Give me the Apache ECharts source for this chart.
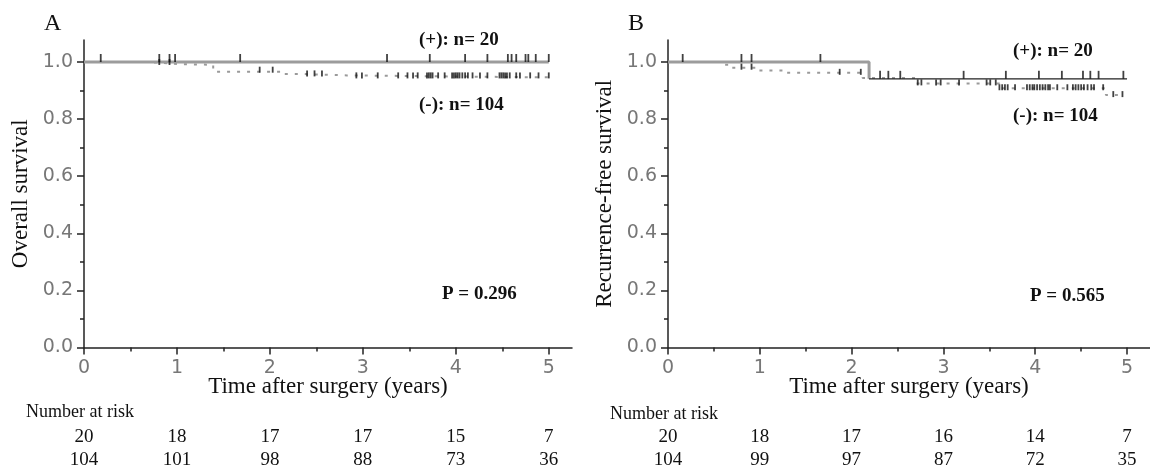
<!DOCTYPE html>
<html>
<head>
<meta charset="utf-8">
<script src="https://cdn.jsdelivr.net/npm/echarts@6/dist/echarts.min.js"></script>
<style>
html,body{margin:0;padding:0;background:#fff;}
#c{width:1150px;height:470px;}
</style>
</head>
<body>
<div id="c"></div>
<script>
// ---- data ----
const xTicks = [0, 1, 2, 3, 4, 5];
const xMinor = [0.5, 1.5, 2.5, 3.5, 4.5];
const yTicks = [0, 0.2, 0.4, 0.6, 0.8, 1.0];
const yMinor = [0.1, 0.3, 0.5, 0.7, 0.9];

const riskAPos = [20, 18, 17, 17, 15, 7];
const riskANeg = [104, 101, 98, 88, 73, 36];
const riskBPos = [20, 18, 17, 16, 14, 7];
const riskBNeg = [104, 99, 97, 87, 72, 35];

// Panel A (overall survival)
const timesAPos = [0, 5.0];
const survAPos = [1, 1];
const censorAPos = [0.18, 0.81, 0.92, 0.98, 1.68, 3.26, 3.72, 4.10, 4.34, 4.56, 4.60, 4.65, 4.75, 4.78, 4.86, 5.0];
const timesANeg = [0, 0.69, 1.0, 1.39, 2.13, 2.34, 2.83, 5.02];
const survANeg = [1, 0.993, 0.99, 0.966, 0.958, 0.953, 0.946, 0.946];
const censorANeg = [0.81, 0.92, 1.89, 2.03, 2.40, 2.48, 2.56, 2.93, 2.99, 3.16, 3.38, 3.48, 3.54, 3.59, 3.69, 3.71, 3.73, 3.75, 3.81, 3.88, 3.96, 3.98, 4.00, 4.02, 4.04, 4.07, 4.10, 4.13, 4.18, 4.26, 4.34, 4.47, 4.49, 4.51, 4.53, 4.55, 4.58, 4.65, 4.69, 4.80, 4.89, 5.0];

// Panel B (recurrence-free survival)
const timesBPos = [0, 2.19, 5.0];
const survBPos = [1, 0.941, 0.941];
const censorBPos = [0.16, 0.80, 0.91, 1.66, 2.31, 2.40, 2.53, 3.22, 3.68, 4.04, 4.29, 4.52, 4.60, 4.69, 4.96];
const timesBNeg = [0, 0.61, 0.68, 0.96, 1.28, 2.12, 2.70, 3.61, 4.77, 4.97];
const survBNeg = [1, 0.99, 0.98, 0.97, 0.962, 0.944, 0.925, 0.908, 0.884, 0.884];
const censorBNeg = [0.80, 0.91, 1.87, 2.10, 2.72, 2.76, 2.92, 2.97, 3.17, 3.47, 3.51, 3.57, 3.61, 3.64, 3.67, 3.70, 3.78, 3.91, 3.94, 3.97, 3.99, 4.02, 4.05, 4.08, 4.11, 4.14, 4.16, 4.24, 4.35, 4.41, 4.44, 4.47, 4.50, 4.53, 4.57, 4.61, 4.64, 4.74, 4.85, 4.95];

// ---- helpers ----
function pts(times, surv) { return times.map((t, i) => [t, surv[i]]); }
function survAt(times, surv, t) {
  let s = surv[0];
  for (let i = 0; i < times.length; i++) if (times[i] <= t) s = surv[i];
  return s;
}
function censorPts(cens, times, surv) { return cens.map(t => [t, survAt(times, surv, t)]); }

const X_MAX = 5.25, Y_MAX = 1.077;
const AX = '#222';
const NUMFONT = 'DejaVu Sans';
const SERIF = 'Liberation Serif';

function mainX(g) {
  return {
    gridIndex: g, type: 'value', min: 0, max: X_MAX, position: 'bottom',
    axisLine: { onZero: false, lineStyle: { color: AX, width: 1.5 } },
    splitLine: { show: false },
    axisTick: { customValues: xTicks, length: 7, lineStyle: { color: AX, width: 1.5 } },
    axisLabel: { customValues: xTicks, margin: 11, fontSize: 19, color: '#777', fontFamily: NUMFONT },
    name: 'Time after surgery (years)', nameLocation: 'middle', nameGap: 28, nameMoveOverlap: false,
    nameTextStyle: { fontFamily: SERIF, fontSize: 23, color: '#111' }
  };
}
function minorX(g) {
  return {
    gridIndex: g, type: 'value', min: 0, max: X_MAX, position: 'bottom',
    axisLine: { show: false, onZero: false }, splitLine: { show: false },
    axisTick: { customValues: xMinor, length: 4, lineStyle: { color: AX, width: 1.5 } },
    axisLabel: { show: false }
  };
}
function riskX(g, arr, off) {
  return {
    gridIndex: g, type: 'value', min: 0, max: X_MAX, position: 'bottom', offset: off,
    axisLine: { show: false, onZero: false }, splitLine: { show: false }, axisTick: { show: false },
    axisLabel: {
      customValues: xTicks, margin: 0, verticalAlign: 'middle',
      formatter: v => String(arr[Math.round(v)]),
      fontFamily: SERIF, fontSize: 19, color: '#111'
    }
  };
}
function mainY(g, name) {
  return {
    gridIndex: g, type: 'value', min: 0, max: Y_MAX, position: 'left',
    axisLine: { show: true, onZero: false, lineStyle: { color: AX, width: 1.5 } },
    splitLine: { show: false },
    axisTick: { customValues: yTicks, length: 7, lineStyle: { color: AX, width: 1.5 } },
    axisLabel: { customValues: yTicks, formatter: v => v.toFixed(1), margin: 11, fontSize: 19, color: '#777', fontFamily: NUMFONT },
    name: name, nameLocation: 'middle', nameGap: 52, nameMoveOverlap: false,
    nameTextStyle: { fontFamily: SERIF, fontSize: 23, color: '#111' }
  };
}
function minorY(g) {
  return {
    gridIndex: g, type: 'value', min: 0, max: Y_MAX, position: 'left',
    axisLine: { show: false, onZero: false }, splitLine: { show: false },
    axisTick: { customValues: yMinor, length: 4, lineStyle: { color: AX, width: 1.5 } },
    axisLabel: { show: false }
  };
}

// x axes: per grid g -> indices 4g..4g+3 (main, minor, risk+, risk-)
const xAxes = [
  mainX(0), minorX(0), riskX(0, riskAPos, 90), riskX(0, riskANeg, 113),
  mainX(1), minorX(1), riskX(1, riskBPos, 90), riskX(1, riskBNeg, 113)
];
const yAxes = [mainY(0, 'Overall survival'), minorY(0), mainY(1, 'Recurrence-free survival'), minorY(1)];

function posLine(g, data, color, width, z) {
  return {
    type: 'line', step: 'end', xAxisIndex: 4 * g, yAxisIndex: 2 * g, data: data,
    symbol: 'none', lineStyle: { color: color, width: width }, z: z, silent: true, animation: false
  };
}
function negLine(g, data) {
  return {
    type: 'line', step: 'end', xAxisIndex: 4 * g, yAxisIndex: 2 * g, data: data,
    symbol: 'none', lineStyle: { color: '#9a9a9a', width: 2, type: [3, 7] }, z: 2, silent: true, animation: false
  };
}
function censors(g, data, h, off) {
  return {
    type: 'scatter', xAxisIndex: 4 * g, yAxisIndex: 2 * g, data: data,
    symbol: 'rect', symbolSize: [1.8, h], symbolOffset: [0, off],
    itemStyle: { color: '#111' }, z: 5, silent: true, animation: false
  };
}

// B (+): grey up to and including first drop, thin dark afterwards
const bPosAll = pts(timesBPos, survBPos);
const bDropIdx = survBPos.findIndex(s => s < 1);
const bPosGrey = bPosAll.slice(0, bDropIdx + 1);
const bPosDark = bPosAll.slice(bDropIdx);

const option = {
  backgroundColor: '#fff',
  animation: false,
  grid: [
    { left: 84, top: 40, width: 488, height: 309 },
    { left: 668, top: 40, width: 488, height: 309 }
  ],
  xAxis: xAxes,
  yAxis: yAxes,
  series: [
    negLine(0, pts(timesANeg, survANeg)),
    posLine(0, pts(timesAPos, survAPos), '#9c9c9c', 3, 3),
    censors(0, censorPts(censorANeg, timesANeg, survANeg), 6, -2),
    censors(0, censorPts(censorAPos, timesAPos, survAPos), 8, -4),

    negLine(1, pts(timesBNeg, survBNeg)),
    posLine(1, bPosGrey, '#9c9c9c', 3, 3),
    posLine(1, bPosDark, '#222', 1.3, 4),
    censors(1, censorPts(censorBNeg, timesBNeg, survBNeg), 6, -1),
    censors(1, censorPts(censorBPos, timesBPos, survBPos), 8, -4)
  ],
  graphic: [
    { type: 'text', left: 44, top: 12, style: { text: 'A', font: '24px "Liberation Serif"', fill: '#111' } },
    { type: 'text', left: 628, top: 12, style: { text: 'B', font: '24px "Liberation Serif"', fill: '#111' } },
    { type: 'text', left: 419, top: 31, style: { text: '(+): n= 20', font: 'bold 19px "Liberation Serif"', fill: '#111' } },
    { type: 'text', left: 419, top: 96, style: { text: '(-): n= 104', font: 'bold 19px "Liberation Serif"', fill: '#111' } },
    { type: 'text', left: 442, top: 285, style: { text: 'P = 0.296', font: 'bold 19px "Liberation Serif"', fill: '#111' } },
    { type: 'text', left: 1013, top: 42, style: { text: '(+): n= 20', font: 'bold 19px "Liberation Serif"', fill: '#111' } },
    { type: 'text', left: 1013, top: 107, style: { text: '(-): n= 104', font: 'bold 19px "Liberation Serif"', fill: '#111' } },
    { type: 'text', left: 1030, top: 287, style: { text: 'P = 0.565', font: 'bold 19px "Liberation Serif"', fill: '#111' } },
    { type: 'text', left: 26, top: 403, style: { text: 'Number at risk', font: '18px "Liberation Serif"', fill: '#111' } },
    { type: 'text', left: 610, top: 405, style: { text: 'Number at risk', font: '18px "Liberation Serif"', fill: '#111' } }
  ]
};

const chart = echarts.init(document.getElementById('c'), null, { renderer: 'canvas' });
chart.setOption(option);
</script>
</body>
</html>
